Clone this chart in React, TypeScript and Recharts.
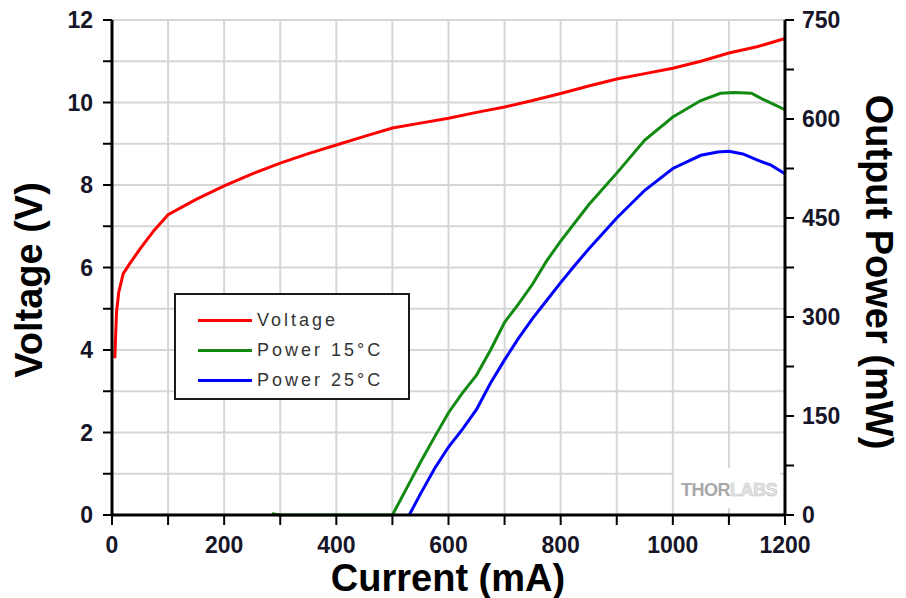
import {
  LineChart,
  Line,
  XAxis,
  YAxis,
  CartesianGrid,
  Legend,
  Label,
} from "recharts";

// Current (mA) sample points for each curve
const voltageCurrent = [5, 8, 12, 20, 32, 50, 75, 100, 150, 200, 250, 300, 350, 400, 450, 500, 550, 600, 650, 700, 750, 800, 850, 900, 950, 1000, 1050, 1100, 1150, 1200];
const voltageValues = [3.8, 4.9, 5.4, 5.85, 6.1, 6.45, 6.9, 7.28, 7.65, 7.98, 8.27, 8.53, 8.76, 8.97, 9.18, 9.38, 9.5, 9.62, 9.76, 9.89, 10.05, 10.22, 10.4, 10.57, 10.7, 10.83, 11.0, 11.2, 11.35, 11.55];

const power15Current = [285, 300, 400, 500, 525, 550, 575, 600, 625, 650, 675, 700, 725, 750, 775, 800, 850, 900, 950, 1000, 1050, 1085, 1110, 1140, 1160, 1180, 1200];
const power15Values = [2, 0, 0, 0, 40, 80, 118, 155, 185, 212, 250, 292, 320, 350, 385, 415, 470, 518, 568, 603, 628, 639, 640, 639, 630, 622, 614];

const power25Current = [530, 550, 575, 600, 625, 650, 675, 700, 725, 750, 775, 800, 825, 850, 900, 950, 1000, 1050, 1080, 1100, 1125, 1150, 1175, 1200];
const power25Values = [0, 32, 70, 103, 130, 160, 200, 235, 268, 298, 325, 352, 378, 403, 450, 492, 525, 545, 550, 551, 547, 538, 530, 517];

const currentTicks = [0, 100, 200, 300, 400, 500, 600, 700, 800, 900, 1000, 1100, 1200];
const voltageTicks = [0, 1, 2, 3, 4, 5, 6, 7, 8, 9, 10, 11, 12];
const powerTicks = [0, 75, 150, 225, 300, 375, 450, 525, 600, 675, 750];

const seriesNames = ["Voltage", "Power 15°C", "Power 25°C"];
const seriesColors = ["#ff0000", "#128a12", "#0000ff"];

const voltageData = voltageCurrent.map((c, i) => ({ current: c, v: voltageValues[i] }));
const power15Data = power15Current.map((c, i) => ({ current: c, p: power15Values[i] }));
const power25Data = power25Current.map((c, i) => ({ current: c, p: power25Values[i] }));

const FONT = "'Liberation Sans', Arial, sans-serif";
const tickStyle = { fill: "#161628", fontSize: 23, fontWeight: 700, fontFamily: FONT };
const axisLine = { stroke: "#000", strokeWidth: 3 };
const tickLine = { stroke: "#000", strokeWidth: 2 };
const titleStyle = { fontSize: 38, fontWeight: 700, fontFamily: FONT, fill: "#000" };

function ChartLegend() {
  return (
    <div
      style={{
        position: "relative",
        width: 236,
        height: 107,
        boxSizing: "border-box",
        border: "2px solid #1a1a1a",
        background: "#fff",
        fontFamily: FONT,
      }}
    >
      {seriesNames.map((name, i) => (
        <div
          key={name}
          style={{
            position: "absolute",
            left: 22,
            top: 14 + i * 30,
            height: 22,
            display: "flex",
            alignItems: "center",
          }}
        >
          <div style={{ width: 54, height: 3, background: seriesColors[i] }} />
          <span
            style={{
              marginLeft: 5,
              fontSize: 18,
              letterSpacing: 3,
              color: "#333",
            }}
          >
            {name}
          </span>
        </div>
      ))}
    </div>
  );
}

function BottomTitles() {
  return (
    <g>
      <rect x={674} y={468} width={106} height={40} fill="#fff" />
      <text x={681} y={496} fontFamily={FONT} fontSize={18} fontWeight={700} letterSpacing={-0.5}>
        <tspan fill="#a8a8a8">THOR</tspan>
        <tspan fill="#e4e4e4" stroke="#c4c4c4" strokeWidth={0.6}>LABS</tspan>
      </text>
      <text x={448} y={591} textAnchor="middle" style={titleStyle}>
        Current (mA)
      </text>
    </g>
  );
}

export default function App() {
  return (
    <div style={{ position: "absolute", left: 0, top: 0, width: 906, height: 598, background: "#fff" }}>
      <LineChart
        width={906}
        height={598}
        margin={{ top: 20, right: 61, bottom: 43, left: 72 }}
      >
        <CartesianGrid yAxisId="v" stroke="#d6d6d6" strokeWidth={2} />
        <XAxis
          dataKey="current"
          type="number"
          domain={[0, 1200]}
          ticks={currentTicks}
          interval={0}
          height={40}
          tick={tickStyle}
          tickSize={10}
          tickMargin={12}
          axisLine={axisLine}
          tickLine={tickLine}
          tickFormatter={(v: number) => (v % 200 === 0 ? String(v) : "")}
        >
          <Label content={() => <BottomTitles />} />
        </XAxis>
        <XAxis
          xAxisId="top"
          dataKey="current"
          type="number"
          orientation="top"
          domain={[0, 1200]}
          height={0}
          tick={false}
          tickLine={false}
          axisLine={axisLine}
        />
        <YAxis
          yAxisId="v"
          type="number"
          domain={[0, 12]}
          ticks={voltageTicks}
          interval={0}
          width={40}
          tick={tickStyle}
          tickSize={9}
          tickMargin={10}
          axisLine={axisLine}
          tickLine={tickLine}
          tickFormatter={(v: number) => (v % 2 === 0 ? String(v) : "")}
        >
          <Label
            content={() => (
              <text
                x={0}
                y={0}
                transform="translate(42 280) rotate(-90)"
                textAnchor="middle"
                style={titleStyle}
              >
                Voltage (V)
              </text>
            )}
          />
        </YAxis>
        <YAxis
          yAxisId="p"
          orientation="right"
          type="number"
          domain={[0, 750]}
          ticks={powerTicks}
          interval={0}
          width={60}
          tick={tickStyle}
          tickSize={9}
          tickMargin={8}
          axisLine={axisLine}
          tickLine={tickLine}
          tickFormatter={(v: number) => (v % 150 === 0 ? String(v) : "")}
        >
          <Label
            content={() => (
              <text
                x={0}
                y={0}
                transform="translate(866 272) rotate(90)"
                textAnchor="middle"
                style={titleStyle}
              >
                Output Power (mW)
              </text>
            )}
          />
        </YAxis>
        <Legend
          layout="vertical"
          align="center"
          verticalAlign="middle"
          content={() => <ChartLegend />}
          wrapperStyle={{ position: "absolute", left: 174, top: 293, width: 236, height: 107 }}
        />
        <Line
          yAxisId="v"
          data={voltageData}
          dataKey="v"
          name={seriesNames[0]}
          stroke={seriesColors[0]}
          strokeWidth={3}
          dot={false}
          type="linear"
          isAnimationActive={false}
        />
        <Line
          yAxisId="p"
          data={power15Data}
          dataKey="p"
          name={seriesNames[1]}
          stroke={seriesColors[1]}
          strokeWidth={3}
          dot={false}
          type="linear"
          isAnimationActive={false}
        />
        <Line
          yAxisId="p"
          data={power25Data}
          dataKey="p"
          name={seriesNames[2]}
          stroke={seriesColors[2]}
          strokeWidth={3}
          dot={false}
          type="linear"
          isAnimationActive={false}
        />
      </LineChart>
    </div>
  );
}
